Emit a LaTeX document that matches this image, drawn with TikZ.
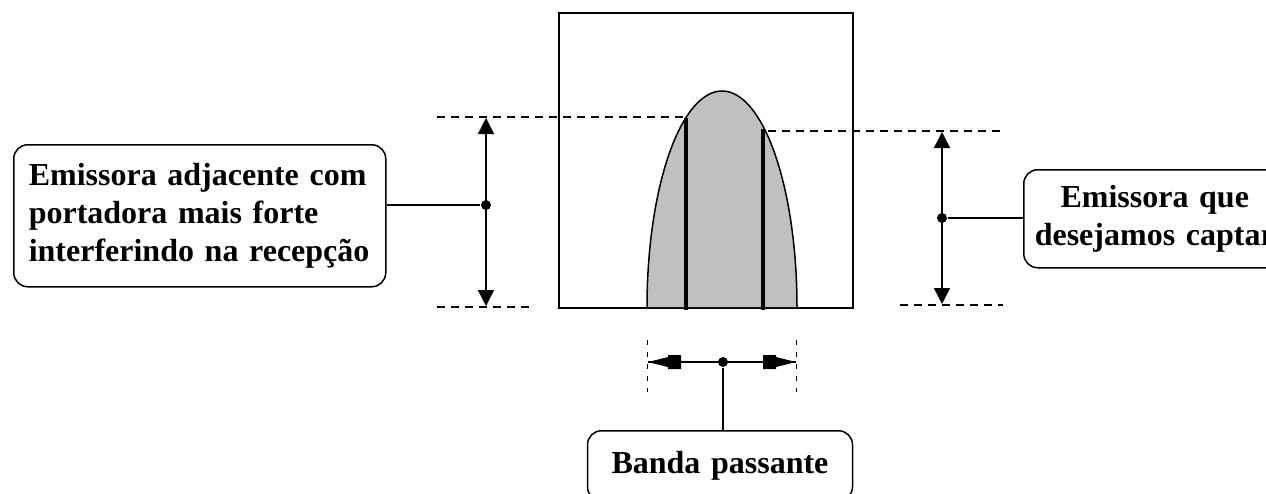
\documentclass[tikz,border=0pt]{standalone}
\usepackage{fontspec}
\setmainfont{Liberation Serif}
\newfontfamily\lblfont{Liberation Serif}
\usetikzlibrary{arrows.meta}
\begin{document}
\begin{tikzpicture}[x=1pt,y=-1pt,line width=1.5pt,
  lbl/.style={draw,rounded corners=14pt,line width=1.5pt,inner sep=0pt,
    font=\lblfont\bfseries\fontsize{32}{38}\selectfont},
  guide/.style={line width=1.3pt,dash pattern=on 8pt off 6pt},
  vguide/.style={line width=1pt,dash pattern=on 5pt off 7pt},
  dim/.style={line width=1.5pt,{Triangle[length=16pt,width=16pt]}-{Triangle[length=16pt,width=16pt]}},
  thick line/.style={line width=4.5pt},
  jdot/.style={circle,fill,inner sep=0pt,minimum size=10pt}
]
\clip (0,0) rectangle (1266,493);
\useasboundingbox (0,0) rectangle (1266,493);

% main frame
\node[draw,line width=1.5pt,anchor=north west,minimum width=294pt,minimum height=295pt,inner sep=0pt] (frame) at (558,12) {};

% bell curve
\fill[fill={rgb,255:red,192;green,192;blue,192}] plot[domain=0:180,samples=90] ({722+75*cos(\x)},{307-216*sin(\x)}) -- cycle;
\draw[line width=1.5pt] plot[domain=0:180,samples=90] ({722+75*cos(\x)},{307-216*sin(\x)});
\draw[line width=1.5pt] (frame.south west) -- (frame.south east);

% carrier lines
\coordinate (c1t) at (686,118);
\coordinate (c1b) at (686,310);
\coordinate (c2t) at (763,129);
\coordinate (c2b) at (763,310);
\draw[thick line] (c1b) -- (c1t);
\draw[thick line] (c2b) -- (c2t);

% guide lines
\coordinate (g1a) at (437,117);
\coordinate (g1b) at (684,117);
\coordinate (g2a) at (437,307);
\coordinate (g2b) at (530,307);
\coordinate (g3a) at (768,131);
\coordinate (g3b) at (1003,131);
\coordinate (g4a) at (900,305);
\coordinate (g4b) at (1003,305);
\draw[guide] (g1a) -- (g1b);
\draw[guide] (g2a) -- (g2b);
\draw[guide] (g3a) -- (g3b);
\draw[guide] (g4a) -- (g4b);

% left dimension
\coordinate (LT) at (486,118);
\coordinate (LB) at (486,306);
\node[jdot] (LM) at (486,205) {};
\draw[dim] (LB) -- (LT);

% right dimension
\coordinate (RT) at (942,132);
\coordinate (RB) at (942,304);
\node[jdot] (RM) at (942,218) {};
\draw[dim] (RB) -- (RT);

% bandwidth
\coordinate (BL) at (648,362);
\coordinate (BR) at (796,362);
\node[jdot] (BM) at (723,362) {};
\coordinate (v1a) at (647,340);
\coordinate (v1b) at (647,392);
\coordinate (v2a) at (796,340);
\coordinate (v2b) at (796,392);
\draw[vguide] (v1a) -- (v1b);
\draw[vguide] (v2a) -- (v2b);
\draw[line width=1.8pt] (BL) -- (BR);
\fill (BL) -- (668,357) -- (668,355) -- (681,355) -- (681,369) -- (668,369) -- (668,367) -- cycle;
\fill (BR) -- (776,357) -- (776,355) -- (763,355) -- (763,369) -- (776,369) -- (776,367) -- cycle;

% labels
\node[lbl,anchor=north west,minimum width=372pt,minimum height=142pt,text width=342pt,align=left] (L) at (13,144)
  {Emissora adjacente com\\portadora mais forte\\interferindo na recepção};
\node[lbl,anchor=north west,minimum width=262pt,minimum height=98pt,text width=250pt,align=center] (R) at (1023,169)
  {Emissora que\\desejamos captar};
\node[lbl,anchor=north,minimum width=265pt,minimum height=70pt,text width=250pt,align=center] (B) at (720,430)
  {\raisebox{2pt}{Banda passante}};

\draw[line width=1.5pt] (L.east |- LM) -- (LM);
\draw[line width=1.5pt] (RM) -- (R.west |- RM);
\draw[line width=1.5pt] (BM) -- (BM |- B.north);
\end{tikzpicture}
\end{document}
